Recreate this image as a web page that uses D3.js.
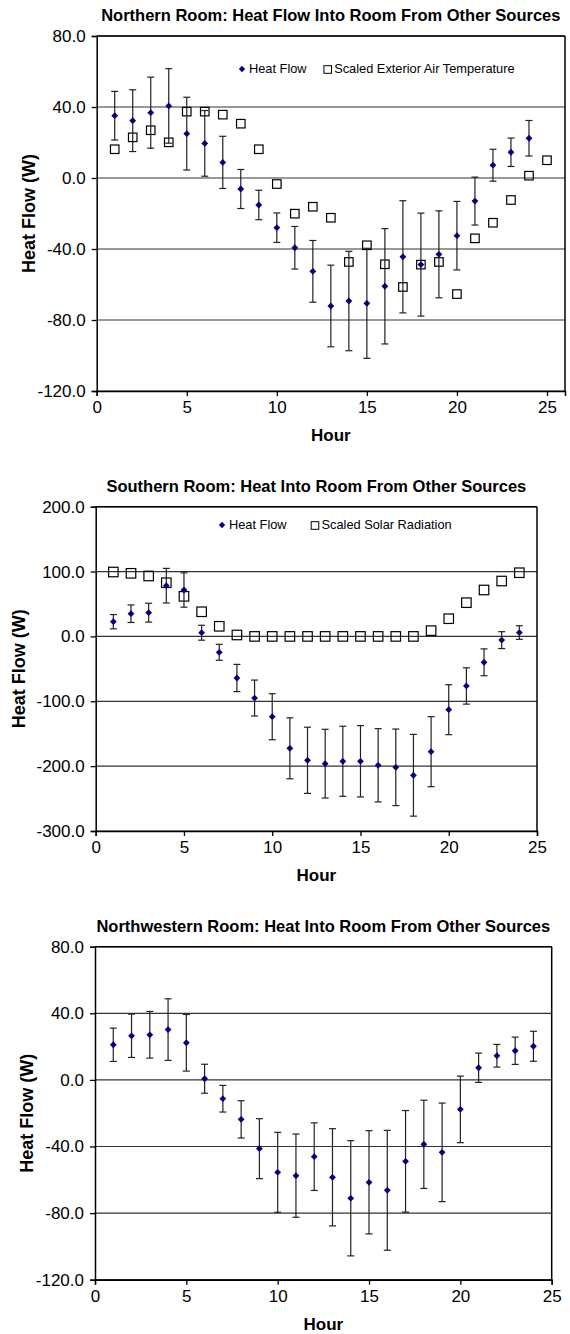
<!DOCTYPE html>
<html>
<head>
<meta charset="utf-8">
<script src="https://cdn.jsdelivr.net/npm/d3@7"></script>
<style>
  html, body { margin: 0; padding: 0; background: #fff; }
  svg { display: block; }
  text { font-family: "Liberation Sans", Arial, sans-serif; fill: #000; }
</style>
</head>
<body>
<svg id="chart" width="570" height="1334"></svg>
<script>
// Hours of the day
const hours24 = d3.range(1, 25);
const hours25 = d3.range(1, 26);

// Northern room: heat flow (W) with error half-widths, and scaled exterior air temperature
const northFlow = [35.1, 32.3, 36.8, 40.6, 25.0, 19.5, 8.8, -6.2, -15.2, -28.0, -39.3, -52.6,
                   -72.1, -69.3, -70.6, -61.0, -44.4, -48.8, -43.0, -32.5, -13.0, 7.2, 14.5, 22.4];
const northErr  = [13.7, 17.4, 20.0, 21.0, 20.5, 18.5, 14.7, 11.0, 8.3, 8.3, 12.0, 17.4,
                   23.0, 28.0, 31.0, 32.5, 31.6, 29.0, 24.5, 19.3, 13.5, 9.0, 8.0, 10.0];
const northTemp = [16.2, 22.9, 26.9, 20.1, 37.4, 37.4, 35.7, 30.6, 16.2, -3.4, -20.1, -16.2, -22.4,
                   -47.3, -37.9, -48.6, -61.4, -48.8, -47.3, -65.4, -34.0, -25.2, -12.4, 1.3, 10.0];

// Southern room: heat flow (W) with error half-widths, and scaled solar radiation
const southFlow = [22.7, 35.0, 36.6, 78.2, 71.6, 5.7, -24.5, -64.1, -95.0, -123.8, -172.5, -191.0,
                   -196.2, -192.5, -192.5, -198.7, -201.8, -214.1, -177.7, -113.0, -76.4, -39.9, -5.7, 6.0];
const southErr  = [11.0, 13.5, 14.5, 26.7, 26.5, 11.5, 12.3, 21.0, 27.7, 35.5, 47.0, 51.0,
                   53.0, 54.0, 55.0, 56.5, 59.0, 63.0, 54.0, 38.5, 28.0, 20.7, 13.0, 10.5];
const southSolar = [99.3, 97.3, 93.2, 82.8, 61.8, 38.0, 15.6, 2.2, 0, 0, 0, 0,
                    0, 0, 0, 0, 0, 0, 8.9, 27.3, 52.0, 71.6, 85.4, 98.2];

// Northwestern room: heat flow (W) with error half-widths
const nwFlow = [21.1, 26.5, 27.1, 30.2, 22.3, 0.7, -11.3, -23.7, -41.3, -55.5, -57.5, -46.1,
                -58.5, -71.1, -61.5, -66.3, -48.9, -38.7, -43.5, -17.7, 7.3, 14.5, 17.5, 20.2];
const nwErr  = [10.0, 13.0, 14.0, 18.5, 17.0, 8.7, 8.0, 11.2, 18.0, 24.0, 25.0, 20.3,
                29.2, 34.6, 31.0, 36.0, 30.5, 26.5, 29.6, 20.0, 8.8, 6.8, 8.2, 9.0];

// Axis ticks and labels
const xTicks = [0, 5, 10, 15, 20, 25];
const yTicksSmall = [-120, -80, -40, 0, 40, 80];
const yTicksLarge = [-300, -200, -100, 0, 100, 200];
const titles = [
  "Northern Room: Heat Flow Into Room From Other Sources",
  "Southern Room: Heat Into Room From Other Sources",
  "Northwestern Room: Heat Into Room From Other Sources"
];
const legendFlow = "Heat Flow";
const legendTemp = "Scaled Exterior Air Temperature";
const legendSolar = "Scaled Solar Radiation";
const xLabel = "Hour";
const yLabel = "Heat Flow (W)";

const svg = d3.select("#chart");
// plain hyphen for negative tick values
const fmt = d3.formatLocale({ decimal: ".", thousands: ",", grouping: [3], currency: ["", ""], minus: "-" }).format(".1f");
// square rotated 45 degrees
const diamondPath = r => `M0,${-r}L${r},0L0,${r}L${-r},0Z`;

function panel(o) {
  const x = d3.scaleLinear().domain([0, o.xMax]).range([o.left, o.right]);
  const y = d3.scaleLinear().domain(d3.extent(o.yTicks)).range([o.bottom, o.top]);
  const g = svg.append("g");

  // horizontal gridlines
  g.selectAll("line.grid").data(o.yTicks).join("line")
    .attr("x1", o.left).attr("x2", o.right)
    .attr("y1", d => y(d)).attr("y2", d => y(d))
    .attr("stroke", "#333").attr("stroke-width", 1.2);

  // plot frame (top and right)
  g.append("line").attr("x1", o.left).attr("x2", o.right).attr("y1", o.top).attr("y2", o.top)
    .attr("stroke", "#000").attr("stroke-width", 1.5);
  g.append("line").attr("x1", o.right).attr("x2", o.right).attr("y1", o.top).attr("y2", o.bottom)
    .attr("stroke", "#000").attr("stroke-width", 1.5);

  // axes
  const ya = g.append("g").attr("transform", `translate(${o.left},0)`)
    .call(d3.axisLeft(y).tickValues(o.yTicks).tickFormat(fmt).tickSize(5).tickPadding(6));
  const xa = g.append("g").attr("transform", `translate(0,${o.bottom})`)
    .call(d3.axisBottom(x).tickValues(xTicks).tickFormat(d3.format("d")).tickSize(5).tickPadding(5));
  [ya, xa].forEach(a => {
    a.select(".domain").attr("stroke", "#000").attr("stroke-width", 1.5);
    a.selectAll(".tick line").attr("stroke", "#000").attr("stroke-width", 1.3);
    a.selectAll("text").attr("font-size", 17).attr("font-family", "Liberation Sans, Arial, sans-serif").attr("fill", "#000");
  });

  // secondary series: open squares
  if (o.squares) {
    const s = o.squareSize;
    g.selectAll("rect.sq").data(o.squares).join("rect")
      .attr("x", (d, i) => x(o.squareHours[i]) - s / 2)
      .attr("y", d => y(d) - s / 2)
      .attr("width", s).attr("height", s)
      .attr("fill", "none").attr("stroke", "#000").attr("stroke-width", 1.2);
  }

  // error bars
  const eb = g.append("g").attr("stroke", "#222").attr("stroke-width", 1.2);
  o.flow.forEach((v, i) => {
    const hx = x(hours24[i]);
    const y1 = y(v + o.err[i]), y2 = y(v - o.err[i]);
    eb.append("line").attr("x1", hx).attr("x2", hx).attr("y1", y1).attr("y2", y2);
    eb.append("line").attr("x1", hx - 3.5).attr("x2", hx + 3.5).attr("y1", y1).attr("y2", y1);
    eb.append("line").attr("x1", hx - 3.5).attr("x2", hx + 3.5).attr("y1", y2).attr("y2", y2);
  });

  // heat flow markers: navy diamonds
  g.selectAll("path.pt").data(o.flow).join("path")
    .attr("d", diamondPath(3.4))
    .attr("transform", (d, i) => `translate(${x(hours24[i])},${y(d)})`)
    .attr("fill", "#000080");

  // title
  g.append("text").attr("x", (o.left + o.right) / 2).attr("y", o.top - 15)
    .attr("text-anchor", "middle").attr("font-weight", "bold").attr("font-size", 16.5)
    .text(o.title);

  // axis labels
  g.append("text").attr("x", (o.left + o.right) / 2).attr("y", o.bottom + 50)
    .attr("text-anchor", "middle").attr("font-weight", "bold").attr("font-size", 17)
    .text(xLabel);
  g.append("text")
    .attr("transform", `translate(${o.yLabelX},${(o.top + o.bottom) / 2}) rotate(-90)`)
    .attr("text-anchor", "middle").attr("font-weight", "bold").attr("font-size", 18)
    .attr("dy", "0.35em")
    .text(yLabel);

  // legend
  if (o.legend) {
    const L = o.legend;
    g.append("path").attr("d", diamondPath(3.2))
      .attr("transform", `translate(${L.dx},${L.y})`).attr("fill", "#000080");
    g.append("text").attr("x", L.dx + 7).attr("y", L.y).attr("dy", "0.35em")
      .attr("font-size", 12.8).text(legendFlow);
    g.append("rect").attr("x", L.sx - 3.8).attr("y", L.y - 3.3).attr("width", 7.6).attr("height", 7.6)
      .attr("fill", "none").attr("stroke", "#000").attr("stroke-width", 1);
    g.append("text").attr("x", L.sx + 6.5).attr("y", L.y).attr("dy", "0.35em")
      .attr("font-size", 12.8).text(L.text);
  }
}

panel({
  left: 96.7, right: 565, top: 36, bottom: 391, xMax: 26, yTicks: yTicksSmall,
  flow: northFlow, err: northErr, squares: northTemp, squareHours: hours25, squareSize: 8.5,
  title: titles[0], yLabelX: 28.5,
  legend: { dx: 242, sx: 327.7, y: 69, text: legendTemp }
});

panel({
  left: 95.7, right: 537, top: 506.7, bottom: 831, xMax: 25, yTicks: yTicksLarge,
  flow: southFlow, err: southErr, squares: southSolar, squareHours: hours24, squareSize: 9.5,
  title: titles[1], yLabelX: 18.5,
  legend: { dx: 222, sx: 315, y: 525, text: legendSolar }
});

panel({
  left: 95, right: 551.7, top: 946.7, bottom: 1279.7, xMax: 25, yTicks: yTicksSmall,
  flow: nwFlow, err: nwErr,
  title: titles[2], yLabelX: 27
});
</script>
</body>
</html>
